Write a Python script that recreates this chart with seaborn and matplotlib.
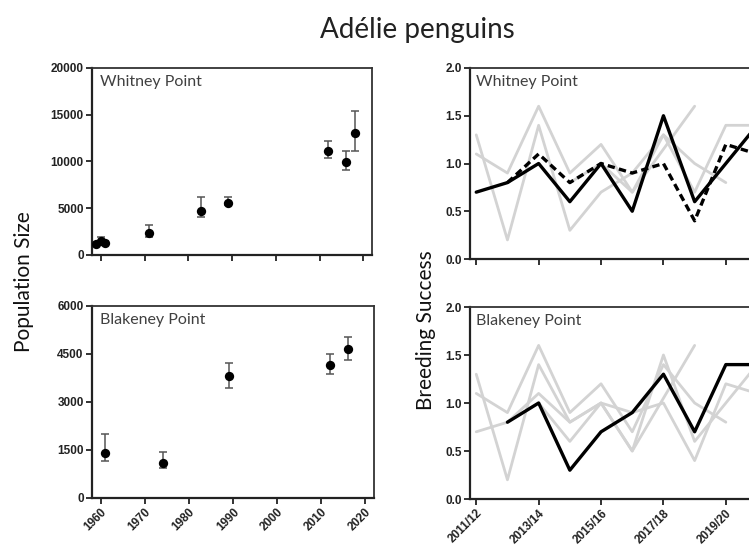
import numpy as np
import pandas as pd
import matplotlib
matplotlib.use("Agg")
import matplotlib.pyplot as plt
import seaborn as sns

# ---------------- data ----------------
wp_years = [1959, 1960, 1961, 1971, 1983, 1989, 2012, 2016, 2018]
wp_pop = [1200, 1450, 1250, 2300, 4700, 5600, 11150, 9950, 13100]
wp_lo = [1000, 1150, 1050, 1900, 4100, 5350, 10400, 9050, 11150]
wp_hi = [1400, 1900, 1500, 3200, 6200, 6200, 12200, 11100, 15450]

bp_years = [1961, 1974, 1989, 2012, 2016]
bp_pop = [1420, 1100, 3800, 4160, 4660]
bp_lo = [1150, 950, 3450, 3880, 4300]
bp_hi = [2000, 1450, 4230, 4500, 5040]

seasons = ["2011/12", "2012/13", "2013/14", "2014/15", "2015/16",
           "2016/17", "2017/18", "2018/19", "2019/20", "2020/21"]
season_ticks = ["2011/12", "2013/14", "2015/16", "2017/18", "2019/20"]

whitney_bs = [0.7, 0.8, 1.0, 0.6, 1.0, 0.5, 1.5, 0.6, 1.0, 1.4]
whitney_bs2 = [np.nan, 0.8, 1.1, 0.8, 1.0, 0.9, 1.0, 0.4, 1.2, 1.1]
blakeney_bs = [np.nan, 0.8, 1.0, 0.3, 0.7, 0.9, 1.3, 0.7, 1.4, 1.4]

top_grey_1 = [1.3, 0.2, 1.4, 0.3, 0.7, 0.9, 1.3, 0.7, 1.4, 1.4]
top_grey_2 = [1.1, 0.9, 1.6, 0.9, 1.2, 0.7, 1.15, 1.6, np.nan, np.nan]
top_grey_3 = [np.nan, np.nan, np.nan, 0.8, 1.0, 0.7, 1.3, 1.0, 0.8, np.nan]

bot_grey_1 = [1.3, 0.2, 1.4, 0.8, 1.0, 0.5, 1.05, 1.6, np.nan, np.nan]
bot_grey_2 = [1.1, 0.9, 1.6, 0.9, 1.2, 0.7, 1.4, 1.0, 0.8, np.nan]
bot_grey_3 = whitney_bs
bot_grey_4 = whitney_bs2

# ---------------- style ----------------
sns.set_style("ticks")
plt.rcParams['font.family'] = ['Liberation Sans', 'DejaVu Sans']

W, H = 749, 552
fig = plt.figure(figsize=(W / 100, H / 100), dpi=100)


def add_ax(left, top, right, bottom):
    return fig.add_axes([left / W, 1 - bottom / H, (right - left) / W, (bottom - top) / H])


ax_tl = add_ax(92, 68, 372, 255)
ax_bl = add_ax(92, 306, 374, 498)
# right panels extend beyond the figure edge (cropped like the reference)
ax_tr = add_ax(470, 68, 470 + 9.7 * 31.2, 259)
ax_br = add_ax(470, 307, 470 + 9.7 * 31.2, 499)

grey = "#d3d3d3"
TICK_FS = 8.5


def style_axes(ax):
    for side in ["left", "bottom"]:
        ax.spines[side].set_linewidth(1.6)
        ax.spines[side].set_color("#222222")
    for side in ["top", "right"]:
        ax.spines[side].set_linewidth(1.3)
        ax.spines[side].set_color("#333333")
        ax.spines[side].set_visible(True)
    ax.tick_params(axis="both", direction="out", length=4.5, width=1.3, color="#222222",
                   labelsize=TICK_FS, labelcolor="#222222", pad=1.5)
    for lab in ax.get_yticklabels() + ax.get_xticklabels():
        lab.set_fontweight("bold")
    ax.set_xlabel("")
    ax.set_ylabel("")


# ---------- population panels ----------
def pop_panel(ax, years, pop, lo, hi, yticks, label, show_x):
    yerr = [np.array(pop) - np.array(lo), np.array(hi) - np.array(pop)]
    ax.errorbar(years, pop, yerr=yerr, fmt="none", ecolor="#555555", elinewidth=1.1,
                capsize=3, capthick=1.1, zorder=2)
    df = pd.DataFrame({"year": years, "pop": pop})
    sns.scatterplot(data=df, x="year", y="pop", ax=ax, color="black", s=45,
                    edgecolor="black", linewidth=0, zorder=3)
    ax.set_xlim(1958, 2022)
    ax.set_ylim(yticks[0], yticks[-1])
    ax.set_yticks(yticks)
    ax.set_xticks(range(1960, 2021, 10))
    if show_x:
        ax.set_xticklabels([str(y) for y in range(1960, 2021, 10)], rotation=45,
                           ha="right", rotation_mode="anchor")
    else:
        ax.set_xticklabels([])
    style_axes(ax)
    ax.text(0.03, 0.965, label, transform=ax.transAxes, ha="left", va="top",
            fontsize=11.5, color="#404040", family=["Lato", "DejaVu Sans"])


pop_panel(ax_tl, wp_years, wp_pop, wp_lo, wp_hi, [0, 5000, 10000, 15000, 20000],
          "Whitney Point", False)
pop_panel(ax_bl, bp_years, bp_pop, bp_lo, bp_hi, [0, 1500, 3000, 4500, 6000],
          "Blakeney Point", True)


# ---------- breeding success panels ----------
def bs_panel(ax, greys, blacks, label, show_x):
    idx = np.arange(len(seasons))
    for g in greys:
        sns.lineplot(x=idx, y=g, ax=ax, color=grey, lw=2.0, zorder=1)
    for vals, ls in blacks:
        sns.lineplot(x=idx, y=vals, ax=ax, color="black", lw=2.4, zorder=3,
                     linestyle=ls)
    ax.set_xlim(-0.2, 9.5)
    ax.set_ylim(0, 2.0)
    ax.set_yticks([0.0, 0.5, 1.0, 1.5, 2.0])
    ax.set_yticklabels(["0.0", "0.5", "1.0", "1.5", "2.0"])
    tick_pos = [seasons.index(s) for s in season_ticks]
    ax.set_xticks(tick_pos)
    if show_x:
        ax.set_xticklabels(season_ticks, rotation=45, ha="right", rotation_mode="anchor")
    else:
        ax.set_xticklabels([])
    style_axes(ax)
    ax.text(0.02, 0.965, label, transform=ax.transAxes, ha="left", va="top",
            fontsize=11.5, color="#404040", family=["Lato", "DejaVu Sans"])


bs_panel(ax_tr, [top_grey_1, top_grey_2, top_grey_3],
         [(whitney_bs2, (0, (2.2, 1.3))), (whitney_bs, "-")], "Whitney Point", False)
bs_panel(ax_br, [bot_grey_1, bot_grey_2, bot_grey_3, bot_grey_4],
         [(blakeney_bs, "-")], "Blakeney Point", True)

# ---------- labels ----------
fig.text(417 / W, 1 - 30 / H, "Adélie penguins", ha="center", va="center",
         fontsize=20, color="#222222", family=["Lato", "DejaVu Sans"])
fig.text(24 / W, 1 - 282 / H, "Population Size", rotation=90, ha="center", va="center",
         fontsize=15, color="#111111", family=["Lato", "DejaVu Sans"])
fig.text(426 / W, 1 - 330 / H, "Breeding Success", rotation=90, ha="center", va="center",
         fontsize=15, color="#111111", family=["Lato", "DejaVu Sans"])

fig.savefig("out.png", dpi=100)
